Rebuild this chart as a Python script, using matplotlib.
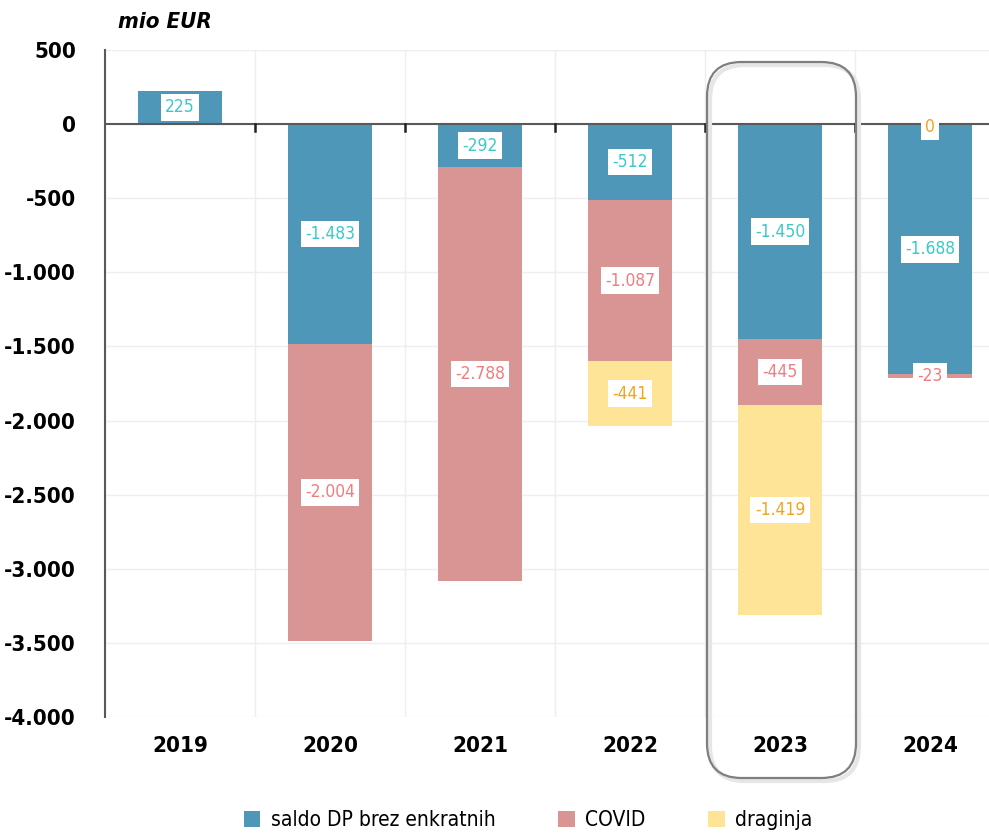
import matplotlib
matplotlib.use("Agg")
import matplotlib.pyplot as plt
from matplotlib import font_manager
from matplotlib.patches import FancyBboxPatch

names = {f.name for f in font_manager.fontManager.ttflist}
FONT = "Liberation Sans Narrow" if "Liberation Sans Narrow" in names else "DejaVu Sans"
plt.rcParams['font.family'] = [FONT, 'DejaVu Sans']
plt.rcParams['font.stretch'] = 'condensed'

years = ["2019", "2020", "2021", "2022", "2023", "2024"]
saldo = [225, -1483, -292, -512, -1450, -1688]
covid = [0, -2004, -2788, -1087, -445, -23]
draginja = [0, 0, 0, -441, -1419, 0]
covid_shown = [False, True, True, True, True, True]
drag_shown = [False, False, False, True, True, True]
y_ticks = [500, 0, -500, -1000, -1500, -2000, -2500, -3000, -3500, -4000]
series_names = ["saldo DP brez enkratnih", "COVID", "draginja"]

c_saldo = "#4f97b9"
c_covid = "#d99594"
c_drag = "#fee496"
t_saldo = "#3cc8c8"
t_covid = "#f07c80"
t_drag = "#f5a31a"

def fmt(v):
    s = f"{abs(v):,}".replace(",", ".")
    return ("-" if v < 0 else "") + s

fig = plt.figure(figsize=(9.89, 8.34), dpi=100)
W, H = 989, 834
left, right = 105 / W, 1005 / W
top, bottom = 1 - 50 / H, 1 - 717 / H
ax = fig.add_axes([left, bottom, right - left, top - bottom])

x = list(range(len(years)))
bw = 0.56
ax.bar(x, saldo, bw, color=c_saldo, label=series_names[0], zorder=2)
ax.bar(x, covid, bw, bottom=saldo, color=c_covid, label=series_names[1], zorder=2)
base2 = [s + c for s, c in zip(saldo, covid)]
ax.bar(x, draginja, bw, bottom=base2, color=c_drag, label=series_names[2], zorder=2)

ax.set_xlim(-0.5, len(years) - 0.5)
ax.set_ylim(-4000, 500)
ax.set_yticks(y_ticks)
ax.set_yticklabels([fmt(v) for v in y_ticks], fontsize=16, fontweight="semibold")
ax.set_xticks(x)
ax.set_xticklabels(years, fontsize=16, fontweight="semibold")
ax.tick_params(axis="y", length=0, pad=21)
ax.tick_params(axis="x", length=0, pad=14)

for v in y_ticks:
    ax.axhline(v, color="#eeeeee", lw=1, zorder=0)
for b in range(1, len(years)):
    ax.axvline(b - 0.5, color="#eeeeee", lw=1, zorder=0)
ax.axhline(0, color="#595959", lw=1.5, zorder=3)
for b in range(1, len(years)):
    ax.plot([b - 0.5, b - 0.5], [0, -45], color="#222222", lw=1.8, zorder=3)

for sp in ["top", "right", "bottom"]:
    ax.spines[sp].set_visible(False)
ax.spines["left"].set_color("#595959")
ax.spines["left"].set_linewidth(1.5)

def lab(xi, yc, v, col):
    ax.text(xi, yc, fmt(v), ha="center", va="center", fontsize=12.5, color=col,
            zorder=5, bbox=dict(boxstyle="square,pad=0.25", fc="white", ec="none"))

for i in x:
    lab(i, saldo[i] / 2, saldo[i], t_saldo)
    if covid_shown[i]:
        lab(i, saldo[i] + covid[i] / 2, covid[i], t_covid)
    if drag_shown[i]:
        if draginja[i] == 0:
            lab(i, -20, draginja[i], t_drag)
        else:
            lab(i, base2[i] + draginja[i] / 2, draginja[i], t_drag)

# rounded highlight box around 2023 (with soft shadow)
bx0, bx1 = 707 / W, 856 / W
by0, by1 = 1 - 778 / H, 1 - 62 / H
for dx, dy, col, lw in [(3, -3, "#e6e6e6", 3.0), (0, 0, "#7f7f7f", 1.6)]:
    box = FancyBboxPatch((bx0 + dx / W, by0 + dy / H), bx1 - bx0, by1 - by0,
                         boxstyle="round,pad=0,rounding_size=0.035",
                         transform=fig.transFigure, fc="none", ec=col, lw=lw,
                         zorder=10, mutation_aspect=W / H)
    fig.add_artist(box)

fig.text(118 / W, 1 - 22 / H, "mio EUR", fontsize=16, style="italic", fontweight="semibold",
         ha="left", va="center")

leg = fig.legend(loc="center", bbox_to_anchor=(528 / W, 1 - 820 / H), ncol=3, frameon=False,
                 fontsize=15, handlelength=0.8, handleheight=0.8, columnspacing=3.0,
                 handletextpad=0.5)

fig.savefig("out.png", dpi=100)
